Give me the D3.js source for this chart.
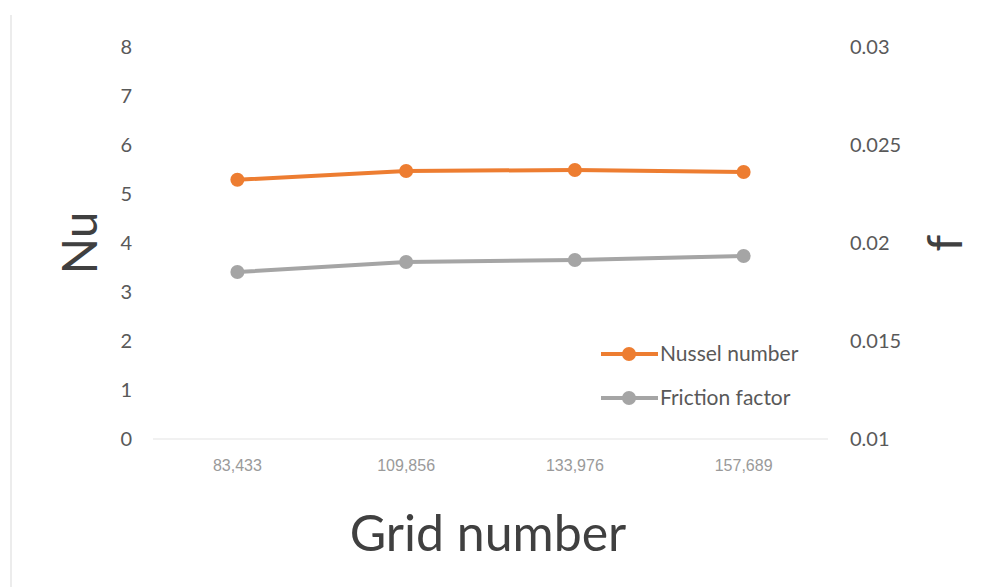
<!DOCTYPE html>
<html>
<head>
<meta charset="utf-8">
<script src="https://cdn.jsdelivr.net/npm/d3@7"></script>
<style>
  body { margin: 0; background: #fff; }
  svg { display: block; }
</style>
</head>
<body>
<div id="chart"></div>
<script>
// values
const grids = ["83,433", "109,856", "133,976", "157,689"]
const nusselt = [5.29, 5.47, 5.49, 5.45]
const friction = [0.01852, 0.01903, 0.01913, 0.01934]
const nuTicks = [0, 1, 2, 3, 4, 5, 6, 7, 8]
const fTicks = [0.01, 0.015, 0.02, 0.025, 0.03]
const seriesNames = ["Nussel number", "Friction factor"]

const width = 999
const height = 587
const orange = "#ED7D31"
const grey = "#A5A5A5"
const textColor = "#595959"
const font = "Lato, 'Open Sans', sans-serif"

const svg = d3.select("#chart")
  .append("svg")
  .attr("width", width)
  .attr("height", height)

// faint scan edge on the left
svg.append("line")
  .attr("x1", 11).attr("x2", 11)
  .attr("y1", 15).attr("y2", height)
  .style("stroke", "#e6e6e6")
  .style("stroke-width", 1.5)

const x = d3.scaleBand()
  .domain(grids)
  .range([153, 828])

const yLeft = d3.scaleLinear()
  .domain([0, 8])
  .range([439, 47])

const yRight = d3.scaleLinear()
  .domain([0.01, 0.03])
  .range([439, 47])

// left axis
const gl = svg.append("g")
  .attr("transform", "translate(132,0)")
  .call(d3.axisLeft(yLeft).tickValues(nuTicks).tickSize(0).tickPadding(0))
gl.select(".domain").remove()
gl.selectAll("text")
  .style("font-family", font)
  .style("font-size", "20px")
  .style("fill", textColor)

// right axis
const gr = svg.append("g")
  .attr("transform", "translate(850,0)")
  .call(d3.axisRight(yRight).tickValues(fTicks).tickFormat(d3.format("")).tickSize(0).tickPadding(0))
gr.select(".domain").remove()
gr.selectAll("text")
  .style("font-family", font)
  .style("font-size", "20px")
  .style("fill", textColor)

// baseline
svg.append("line")
  .attr("x1", x.range()[0]).attr("x2", x.range()[1])
  .attr("y1", yLeft(0)).attr("y2", yLeft(0))
  .style("stroke", "#e3e3e3")
  .style("stroke-width", 1)

// x axis labels
const gx = svg.append("g")
  .attr("transform", "translate(0,460)")
  .call(d3.axisBottom(x).tickSize(0).tickPadding(0))
gx.select(".domain").remove()
gx.selectAll("text")
  .style("font-family", "'Liberation Sans', Arial, sans-serif")
  .style("font-size", "16px")
  .style("fill", "#9a9a9a")

const cx = d => x(d) + x.bandwidth() / 2

const line = (yScale, values) => d3.line()
  .x((d, i) => cx(grids[i]))
  .y(d => yScale(d))(values)

const drawSeries = (values, yScale, color) => {
  svg.append("path")
    .attr("d", line(yScale, values))
    .style("fill", "none")
    .style("stroke", color)
    .style("stroke-width", 4)
    .style("stroke-linejoin", "round")
  svg.append("g").selectAll("circle")
    .data(values)
    .enter()
    .append("circle")
    .attr("cx", (d, i) => cx(grids[i]))
    .attr("cy", d => yScale(d))
    .attr("r", 7)
    .style("fill", color)
}

drawSeries(friction, yRight, grey)
drawSeries(nusselt, yLeft, orange)

// axis titles
svg.append("text")
  .attr("transform", "translate(97,243) rotate(-90)")
  .style("text-anchor", "middle")
  .style("font-family", font)
  .style("font-size", "48px")
  .style("fill", "#404040")
  .text("Nu")

svg.append("text")
  .attr("transform", "translate(962,243) rotate(-90)")
  .style("text-anchor", "middle")
  .style("font-family", font)
  .style("font-size", "48px")
  .style("fill", "#404040")
  .text("f")

svg.append("text")
  .attr("x", 488)
  .attr("y", 551)
  .style("text-anchor", "middle")
  .style("font-family", font)
  .style("font-size", "50px")
  .style("fill", "#404040")
  .text("Grid number")

// legend
const legend = svg.append("g")
const legendColors = [orange, grey]
const legendY = [354, 398]
seriesNames.forEach((name, i) => {
  const g = legend.append("g").attr("transform", `translate(0,${legendY[i]})`)
  g.append("line")
    .attr("x1", 601).attr("x2", 658)
    .style("stroke", legendColors[i])
    .style("stroke-width", 4)
  g.append("circle")
    .attr("cx", 629)
    .attr("r", 7)
    .style("fill", legendColors[i])
  g.append("text")
    .attr("x", 660)
    .attr("dy", "0.35em")
    .style("font-family", font)
    .style("font-size", "21px")
    .style("fill", textColor)
    .text(name)
})
</script>
</body>
</html>
